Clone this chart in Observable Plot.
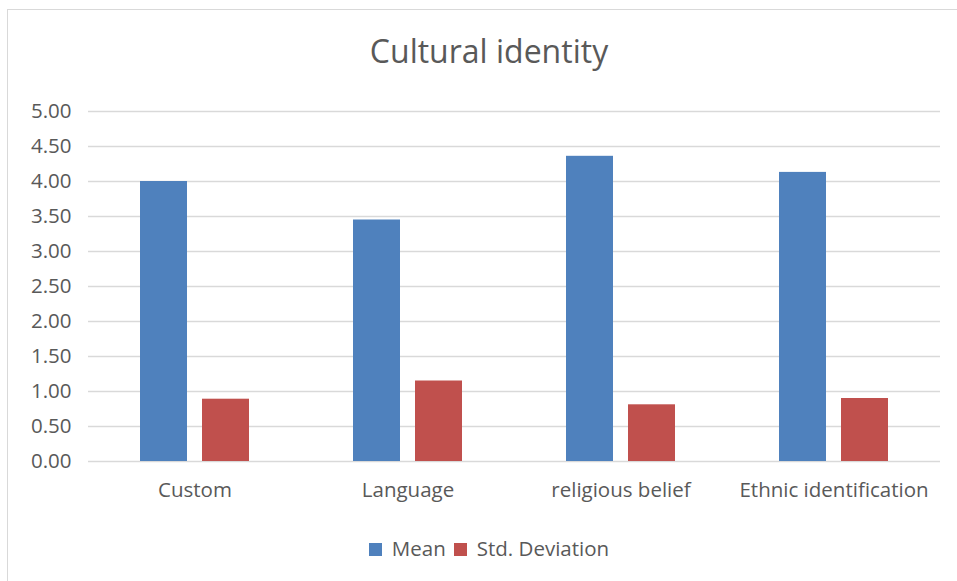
<!DOCTYPE html>
<html>
<head>
<meta charset="utf-8">
<script src="https://cdn.jsdelivr.net/npm/d3@7"></script>
<script src="https://cdn.jsdelivr.net/npm/@observablehq/plot@0.6"></script>
<style>
  html, body { margin: 0; padding: 0; background: #fff; width: 957px; height: 581px; overflow: hidden; }
  body { position: relative; font-family: "Open Sans", sans-serif; color: #595959; }
  #frame { position: absolute; left: 7px; top: 9px; width: 960px; height: 600px; border-left: 1.5px solid #d9d9d9; border-top: 1.5px solid #d9d9d9; box-sizing: border-box; }
  #title { position: absolute; left: 0; width: 978px; top: 28px; text-align: center; font-size: 32px; line-height: 46px; color: #595959; }
  #chart { position: absolute; left: 0; top: 90px; }
  #legend { position: absolute; left: 0; width: 978px; top: 534px; text-align: center; font-size: 20.5px; line-height: 28px; color: #595959; }
  .sw { display: inline-block; width: 13px; height: 13px; margin-right: 10px; vertical-align: 0px; }
  .item { margin: 0 4px; }
</style>
</head>
<body>
<div id="frame"></div>
<div id="title">Cultural identity</div>
<div id="chart"></div>
<div id="legend"></div>
<script>
const categories = ["Custom", "Language", "religious belief", "Ethnic identification"];
const seriesNames = ["Mean", "Std. Deviation"];
const meanValues = [4.00, 3.45, 4.36, 4.13];
const sdValues = [0.89, 1.15, 0.81, 0.90];
const yTicks = [0, 0.5, 1, 1.5, 2, 2.5, 3, 3.5, 4, 4.5, 5];
const colors = ["#4f81bd", "#c0504d"];

const data = categories.flatMap((c, i) => [
  {category: c, series: seriesNames[0], value: meanValues[i]},
  {category: c, series: seriesNames[1], value: sdValues[i]}
]);

const chart = Plot.plot({
  width: 957,
  height: 430,
  marginTop: 21,
  marginBottom: 59,
  marginLeft: 87,
  marginRight: 17,
  style: {fontSize: "20.5px", fontFamily: "'Open Sans', sans-serif", color: "#595959", background: "transparent"},
  fx: {domain: categories, padding: 0, axis: "bottom", label: null, tickSize: 0, tickPadding: 21},
  x: {domain: seriesNames, paddingInner: 0.25, paddingOuter: 0.82, axis: null},
  y: {domain: [0, 5], ticks: yTicks, tickFormat: d => d.toFixed(2), tickSize: 0, tickPadding: 17, label: null},
  color: {domain: seriesNames, range: colors},
  marks: [
    Plot.ruleY(yTicks, {y: d => d, stroke: "#d9d9d9", strokeWidth: 1.5, facet: "exclude"}),
    Plot.barY(data, {fx: "category", x: "series", y: "value", fill: "series"})
  ]
});
document.getElementById("chart").appendChild(chart);

const legend = document.getElementById("legend");
seriesNames.forEach((s, i) => {
  const span = document.createElement("span");
  span.className = "item";
  const sw = document.createElement("span");
  sw.className = "sw";
  sw.style.background = colors[i];
  span.appendChild(sw);
  span.appendChild(document.createTextNode(s));
  legend.appendChild(span);
});
</script>
</body>
</html>
